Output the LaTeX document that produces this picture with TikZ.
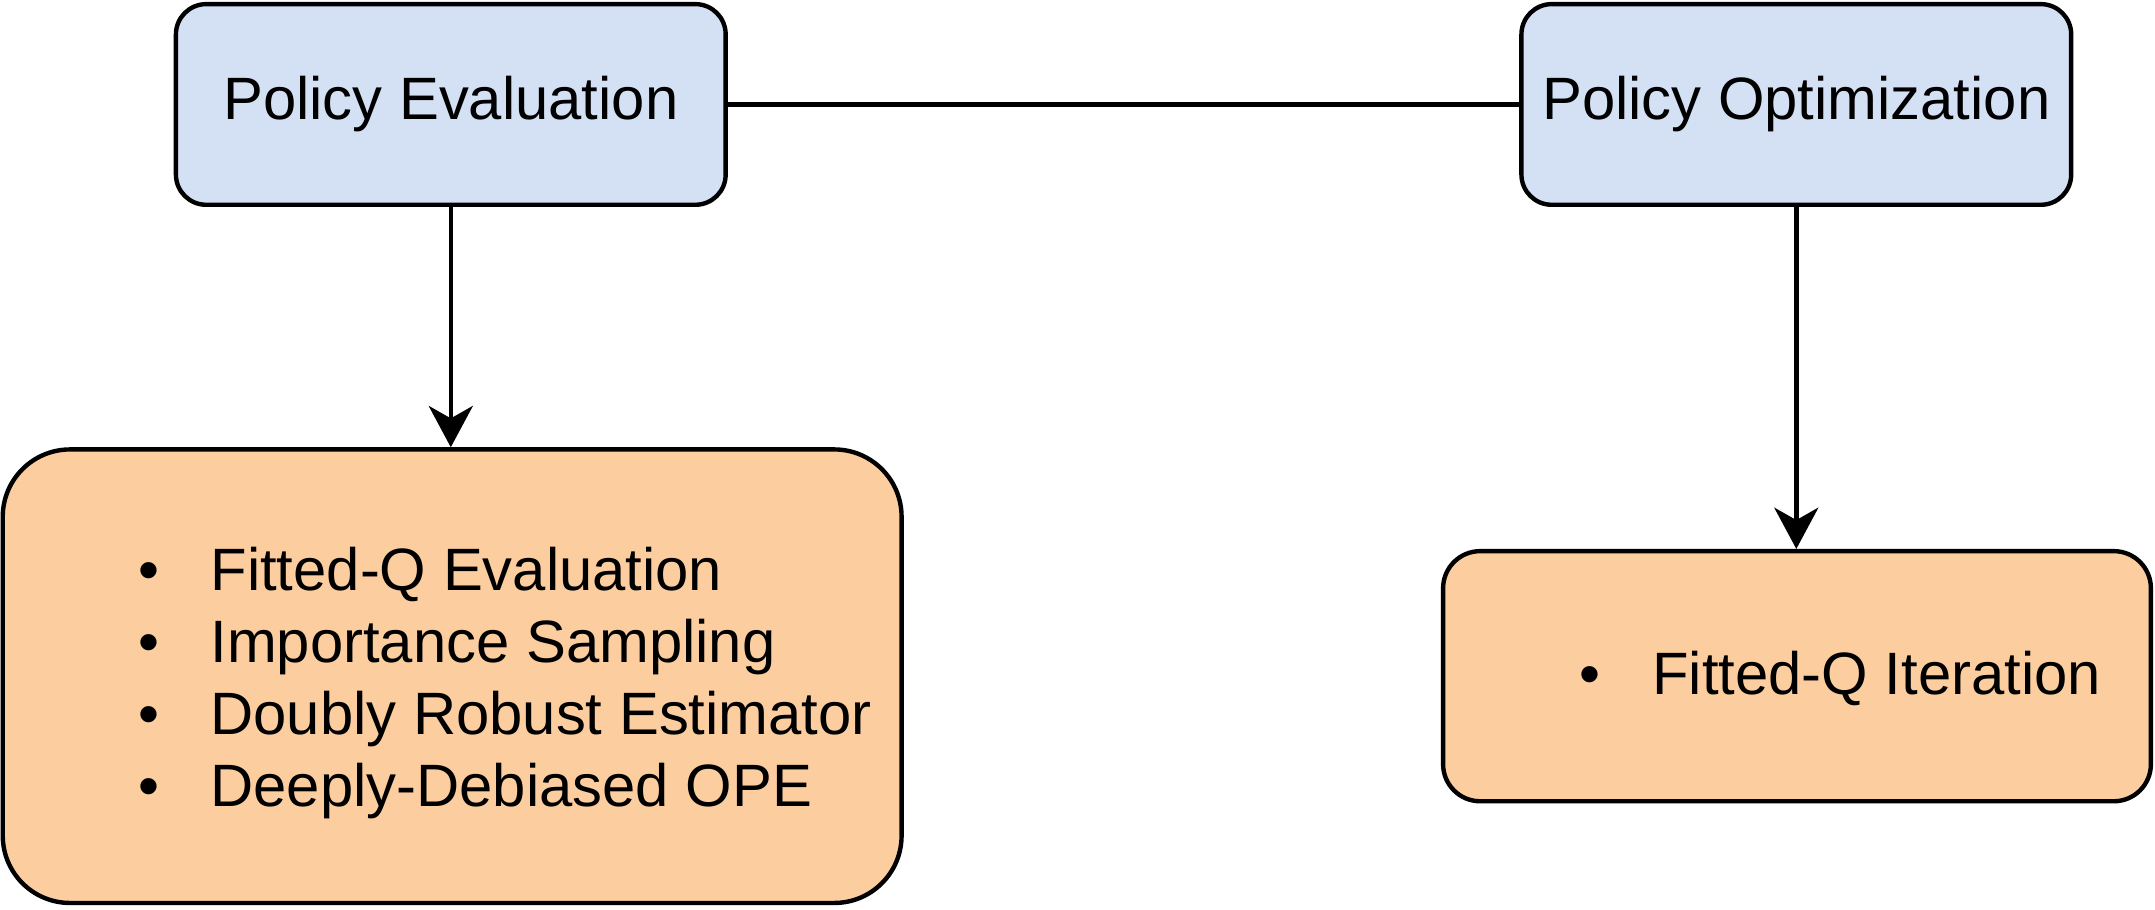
\documentclass[tikz,border=0pt]{standalone}
\usepackage{fontspec}
\setmainfont{Liberation Sans}
\usetikzlibrary{arrows.meta}
\definecolor{bluefill}{HTML}{D4E1F5}
\definecolor{orangefill}{HTML}{FCCE9F}
\newcommand{\itm}[1]{\makebox[0pt]{•}\hspace{45pt}#1}
\begin{document}
\begin{tikzpicture}[x=1pt,y=-1pt,
  box/.style={draw=black, line width=3.2pt, inner sep=0pt},
  topbox/.style={box, fill=bluefill, rounded corners=22pt, minimum width=400pt, minimum height=146pt,
    font=\fontsize{43.5}{52}\selectfont},
  listtext/.style={inner sep=0pt, anchor=west, align=left, font=\fontsize{43.5}{52.5}\selectfont},
  conn/.style={draw=black, line width=3.2pt},
  arr/.style={conn, -{Stealth[length=30pt, width=32pt, inset=9pt]}}]
\useasboundingbox (0,0) rectangle (1568,662);
\node[topbox] (pe) at (328,76) {Policy Evaluation};
\node[topbox] (po) at (1307,76) {Policy Optimization};
\node[box, fill=orangefill, rounded corners=49pt, minimum width=654pt, minimum height=330pt] (lb) at (329,492) {};
\node[box, fill=orangefill, rounded corners=27pt, minimum width=515pt, minimum height=182pt] (rb) at (1307.5,492) {};
\node[listtext] (lt) at (108,497) {\itm{Fitted-Q Evaluation}\\\itm{Importance Sampling}\\\itm{Doubly Robust Estimator}\\\itm{Deeply-Debiased OPE}};
\node[listtext] (rt) at (1157,494) {\itm{Fitted-Q Iteration}};
\draw[conn] (pe.east) -- (po.west);
\draw[arr] (pe.south) -- (pe.south |- lb.north);
\draw[arr] (po.south) -- (po.south |- rb.north);
\end{tikzpicture}
\end{document}
